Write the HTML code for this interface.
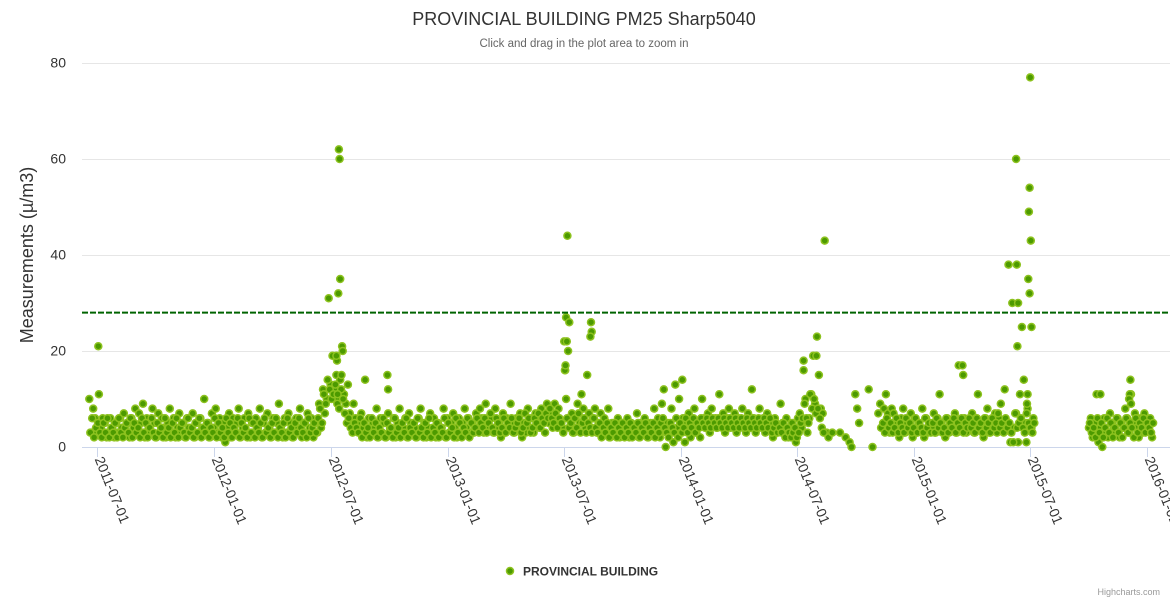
<!DOCTYPE html>
<html><head><meta charset="utf-8"><style>
body{margin:0;background:#fff;}
svg text{font-family:"Liberation Sans",sans-serif;}
</style></head><body>
<svg id="chart" width="1170" height="600" xmlns="http://www.w3.org/2000/svg">
<rect width="1170" height="600" fill="#fff"/>
<text x="584" y="25" text-anchor="middle" font-size="18" fill="#333">PROVINCIAL BUILDING PM25 Sharp5040</text>
<text x="584" y="47" text-anchor="middle" font-size="11.5" fill="#666">Click and drag in the plot area to zoom in</text>
<text transform="translate(33,255) rotate(-90)" text-anchor="middle" font-size="18" fill="#333">Measurements (µ/m3)</text>
<g id="grid"></g>
<g id="xaxis"></g>
<g id="pts"></g>
<g id="plotline"></g>
<g>
<circle cx="510" cy="571" r="3.5" fill="#4c9a00" stroke="#8dc21f" stroke-width="1.5"/>
<text x="523" y="575.5" font-size="12" font-weight="bold" fill="#333">PROVINCIAL BUILDING</text>
</g>
<text x="1160" y="595" text-anchor="end" font-size="9" fill="#999">Highcharts.com</text>
</svg>
<script>
const yTicks=[0,20,40,60,80];
const xTickDays=[0,184,366,550,731,915,1096,1280,1461,1645];
const xTickLabels=["2011-07-01","2012-01-01","2012-07-01","2013-01-01","2013-07-01","2014-01-01","2014-07-01","2015-01-01","2015-07-01","2016-01-01"];
const thresholdValue=28;
const baseStartDay=-12;
const secondStartDay=-10.5;
const baseStepDays=3;
const n=null;
const baseValues=[
10,3,8,6,3,11,4,6,5,2,3,6,4,2,5,3,6,4,7,3,
5,2,6,4,8,3,7,5,9,2,6,4,3,8,5,2,7,3,6,4,
2,5,8,3,6,2,4,7,3,5,2,6,4,3,7,2,5,3,6,4,
10,3,5,2,7,4,8,3,6,2,5,1,4,7,2,6,3,5,8,2,
4,6,3,7,2,5,3,6,4,8,2,5,3,7,4,2,6,3,5,9,
4,2,6,3,7,5,2,4,6,3,8,2,5,3,7,4,6,2,5,3,
9,4,12,7,10,31,13,19,12,15,10,14,21,11,9,13,7,5,9,6,
5,3,7,4,14,2,6,3,5,4,8,2,6,3,5,2,7,4,3,6,
2,5,8,3,4,6,2,7,5,3,4,2,6,8,3,5,2,4,7,3,
6,2,5,3,4,8,2,6,3,5,7,4,2,6,3,5,8,4,6,3,
5,3,7,4,8,6,3,9,5,4,6,3,8,4,5,2,7,3,6,4,
9,5,3,6,4,7,2,5,3,8,4,6,3,7,5,4,8,6,3,9,
5,7,4,9,6,8,5,4,22,10,6,4,7,3,6,9,5,11,8,4,
15,7,4,6,8,3,5,7,4,6,3,8,2,5,4,3,6,2,5,3,
4,6,2,5,3,4,7,2,5,3,6,4,2,5,3,8,4,6,2,9,
12,0,5,3,8,1,13,4,10,3,6,1,5,7,2,4,8,3,5,2,
10,6,4,7,3,8,5,6,4,11,5,7,3,6,8,4,5,7,3,6,
4,8,5,3,7,4,12,6,3,5,8,4,6,3,7,4,5,2,6,3,
4,9,5,3,6,2,4,5,3,1,6,7,4,16,10,3,6,11,19,9,
23,15,8,7,43,3,2,n,3,n,n,n,3,n,n,2,n,1,0,n,
11,8,5,n,n,n,n,12,n,0,n,n,7,9,n,8,11,7,3,8,
7,4,5,2,6,8,3,5,4,7,2,6,3,5,4,8,2,6,3,5,
4,7,3,6,11,5,4,2,6,3,5,4,7,3,17,5,4,6,3,5,
4,7,3,6,11,5,4,2,6,8,3,5,4,7,3,6,9,4,12,5,
38,1,30,4,7,1,11,25,14,5,8,32,4,6,
n,n,n,n,n,n,n,n,n,n,n,n,n,n,n,n,n,n,n,n,n,n,n,n,n,n,n,n,
4,6,2,5,11,1,4,0,6,3,2,7,5,4,3,6,2,5,4,8,6,3,11,5,7,4,2,6,3,7,5,4,6,2
];
const secondValues=[
3,6,2,4,5,3,2,5,3,6,2,4,3,5,2,6,3,2,4,5,
3,6,2,5,3,4,2,6,3,5,2,4,6,3,2,5,3,4,2,6,
3,4,2,5,3,6,2,4,5,3,2,6,3,4,2,5,3,6,2,4,
3,5,2,4,3,6,2,5,3,4,2,6,3,5,2,4,3,6,2,5,
3,4,2,6,3,5,2,4,3,5,2,6,3,4,2,5,3,6,2,4,
3,5,2,6,3,4,2,5,3,6,4,3,5,2,6,3,4,5,3,6,
8,5,11,9,14,12,10,11,13,9,8,12,10,7,5,6,4,3,5,4,
3,6,2,5,3,4,2,6,3,5,2,4,3,6,2,5,3,4,2,6,
3,4,2,5,3,6,2,4,3,5,2,6,3,4,2,5,3,6,2,4,
3,5,2,4,3,6,2,5,3,4,2,6,3,5,2,4,3,6,2,5,
3,4,6,3,5,4,6,3,5,7,4,3,6,5,3,4,6,3,5,4,
6,3,4,5,6,3,4,7,5,6,3,4,6,5,7,4,6,5,7,6,
8,6,5,7,4,6,5,3,16,6,4,5,3,6,4,7,3,5,6,3,
5,4,3,6,4,3,5,2,4,3,5,2,4,3,5,2,4,3,5,2,
4,3,5,2,4,3,5,2,4,3,5,2,4,3,5,2,4,3,5,6,
4,3,2,5,4,3,6,2,5,3,4,6,3,5,4,6,3,5,4,6,
5,4,6,5,4,6,5,4,6,5,4,6,5,4,6,5,4,6,5,4,
6,5,4,6,5,4,6,5,4,6,5,4,6,5,4,6,3,4,5,3,
4,3,5,2,4,3,2,3,4,2,3,5,6,9,6,5,11,8,10,7,
8,6,4,3,n,n,n,n,n,n,n,n,n,n,n,n,n,n,n,n,
n,n,n,n,n,n,n,n,n,n,n,n,n,4,5,3,6,4,5,3,
4,6,3,5,4,3,6,4,5,3,4,6,3,5,4,3,6,4,5,3,
5,3,6,4,5,3,4,6,3,5,4,6,3,5,4,6,3,5,4,6,
4,5,3,6,4,5,3,6,4,5,3,6,4,5,7,4,5,3,6,4,
5,3,1,7,4,5,6,4,3,7,5,4,3,5,
n,n,n,n,n,n,n,n,n,n,n,n,n,n,n,n,n,n,n,n,n,n,n,n,n,n,n,n,
5,3,4,2,6,3,5,2,4,6,3,5,2,4,6,3,5,2,4,6,3,5,4,2,6,3,5,4,6,3,5,4,3,5
];
const extraDays=[2,379,380,381,378,376,375,385,383,377,455,456,737,735,740,733,734,738,736,774,775,773,917,1107,1127,1440,1441,1443,1442,1462,1461,1460,1463,1459,1464,1458,1457,1456,1572,1619,1618,1617,1620,1356,1357];
const extraValues=[21,62,60,35,32,18,19,20,15,11,15,12,44,27,26,16,17,20,22,26,24,23,14,18,19,60,38,30,21,77,54,49,43,35,25,11,9,1,11,14,11,10,9,17,15];

const X0=97,X1=1147,Y0=447,Y80=63,LEFT=82,RIGHT=1170;
const xS=d=>X0+(d-xTickDays[0])*(X1-X0)/(xTickDays[xTickDays.length-1]-xTickDays[0]);
const yS=v=>Y0-(v-yTicks[0])*(Y0-Y80)/(yTicks[yTicks.length-1]-yTicks[0]);
const NS="http://www.w3.org/2000/svg";
function mk(tag,attrs,parent){const e=document.createElementNS(NS,tag);for(const k in attrs)e.setAttribute(k,attrs[k]);parent.appendChild(e);return e;}
const grid=document.getElementById('grid');
yTicks.forEach(t=>{
  const y=Math.round(yS(t))+0.5;
  if(t!==0){const l=mk('line',{x1:LEFT,x2:RIGHT,y1:y,y2:y,stroke:'#e6e6e6'},grid);
  
  }
  const tx=mk('text',{x:66,y:y+4,'text-anchor':'end','font-size':14,fill:'#333'},grid);
  tx.textContent=t;
  
  
});
const xa=document.getElementById('xaxis');
const al=mk('line',{x1:LEFT,x2:RIGHT,y1:Y0+0.5,y2:Y0+0.5,stroke:'#ccd6eb'},xa);


xTickDays.forEach((d,i)=>{
  const x=Math.round(xS(d))+0.5;
  const tk=mk('line',{x1:x,x2:x,y1:Y0,y2:Y0+10,stroke:'#ccd6eb'},xa);
  
  
  const tx=mk('text',{transform:`translate(${x-3},${Y0+12}) rotate(68)`,'font-size':14,fill:'#333'},xa);
  tx.textContent=xTickLabels[i];
  
  
});
const pts=document.getElementById('pts');
function dot(d,v){
  const c=mk('circle',{cx:xS(d).toFixed(1),cy:yS(v).toFixed(1),r:3.5,fill:'#4c9a00',stroke:'#8dc21f','stroke-width':1.5},pts);
  
  
}
baseValues.forEach((v,i)=>{if(v!==null)dot(baseStartDay+i*baseStepDays,v);});
secondValues.forEach((v,i)=>{if(v!==null)dot(secondStartDay+i*baseStepDays,v);});
extraValues.forEach((v,i)=>dot(extraDays[i],v));
const pl=document.getElementById('plotline');
const py=yS(thresholdValue);
const ln=mk('line',{x1:LEFT,x2:RIGHT,y1:py,y2:py,stroke:'#006400','stroke-width':2,'stroke-dasharray':'6,2'},pl);


</script>
</body></html>
